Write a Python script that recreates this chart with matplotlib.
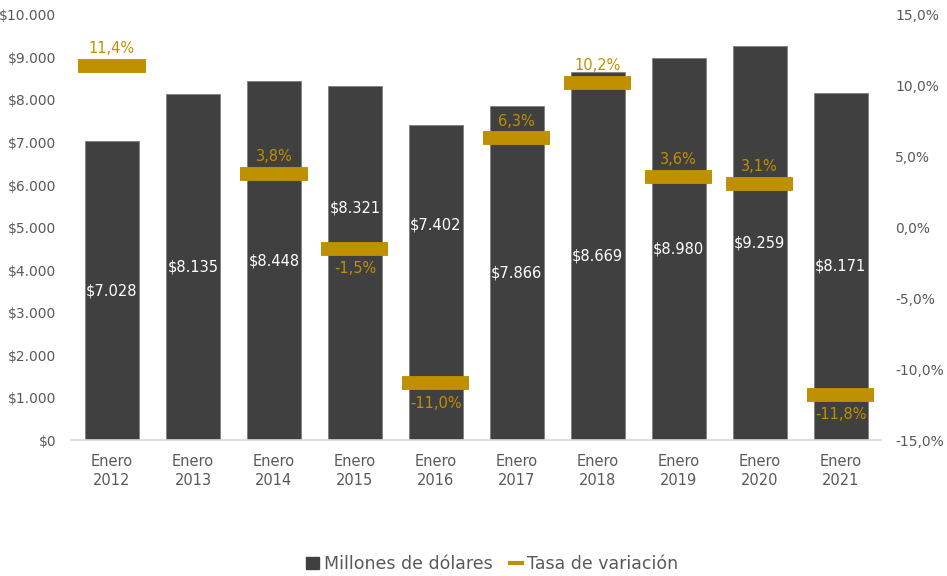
import matplotlib
matplotlib.use("Agg")
import matplotlib.pyplot as plt
import numpy as np
from matplotlib.lines import Line2D
from matplotlib.patches import Patch

years = ["2012", "2013", "2014", "2015", "2016", "2017", "2018", "2019", "2020", "2021"]
millones = [7028, 8135, 8448, 8321, 7402, 7866, 8669, 8980, 9259, 8171]
# 2013 rate falls above the 15% axis limit and is not shown
tasa = [11.4, np.nan, 3.8, -1.5, -11.0, 6.3, 10.2, 3.6, 3.1, -11.8]

# value label heights that Excel nudged away from the markers
label_y = {3: 5450, 4: 5050}

bar_color = "#404040"
gold = "#BF9000"
text_gray = "#595959"

plt.rcParams["font.family"] = ["DejaVu Sans"]

fig = plt.figure(figsize=(9.47, 5.76), dpi=100)
ax = fig.add_axes([0.0755, 0.236, 0.855, 0.738])
ax2 = ax.twinx()

x = np.arange(len(years))
ax.bar(x, millones, width=0.667, color=bar_color, edgecolor="#7f7f7f", linewidth=0.6, zorder=2)

for i, v in enumerate(millones):
    y = label_y.get(i, v / 2)
    ax.text(i, y, "$" + f"{v:,}".replace(",", "."), ha="center", va="center",
            color="white", fontsize=10.5, zorder=5)

ax.set_xlim(-0.5, len(years) - 0.5)
ax.set_ylim(0, 10000)
ax.set_yticks(np.arange(0, 10001, 1000))
ax.set_yticklabels(["$" + f"{int(t):,}".replace(",", ".") for t in np.arange(0, 10001, 1000)])
ax.set_xticks(x)
ax.set_xticklabels(["Enero\n" + y for y in years], linespacing=1.35)

for i, r in enumerate(tasa):
    if np.isnan(r):
        continue
    ax2.hlines(r, i - 0.415, i + 0.415, color=gold, linewidth=10, zorder=4)
    if r >= 0:
        ax2.annotate(f"{r:.1f}%".replace(".", ","), (i, r), xytext=(0, 7),
                     textcoords="offset points", ha="center", va="bottom",
                     color=gold, fontsize=10.5)
    else:
        ax2.annotate(f"{r:.1f}%".replace(".", ","), (i, r), xytext=(0, -9),
                     textcoords="offset points", ha="center", va="top",
                     color=gold, fontsize=10.5)

ax2.set_ylim(-15, 15)
ax2.set_yticks(np.arange(-15, 15.1, 5))
ax2.set_yticklabels([f"{t:.1f}%".replace(".", ",") for t in np.arange(-15, 15.1, 5)])

for a in (ax, ax2):
    for s in a.spines.values():
        s.set_visible(False)
    a.tick_params(length=0, colors=text_gray, labelsize=10)
ax.spines["bottom"].set_visible(True)
ax.spines["bottom"].set_color("#D9D9D9")
ax.spines["bottom"].set_linewidth(1.2)
ax.tick_params(axis="y", pad=11)
ax.tick_params(axis="x", pad=10, labelsize=10.5)
ax2.tick_params(axis="y", pad=10)

handles = [Patch(color=bar_color, label="Millones de dólares"),
           Line2D([0], [0], color=gold, linewidth=3, label="Tasa de variación")]
leg = fig.legend(handles=handles, loc="lower center", bbox_to_anchor=(0.52, -0.022), ncol=2,
                 frameon=False, fontsize=12.5, handlelength=0.7, handleheight=0.7,
                 handletextpad=0.3, columnspacing=1.0)
for t in leg.get_texts():
    t.set_color(text_gray)

fig.savefig("out.png", dpi=100)
